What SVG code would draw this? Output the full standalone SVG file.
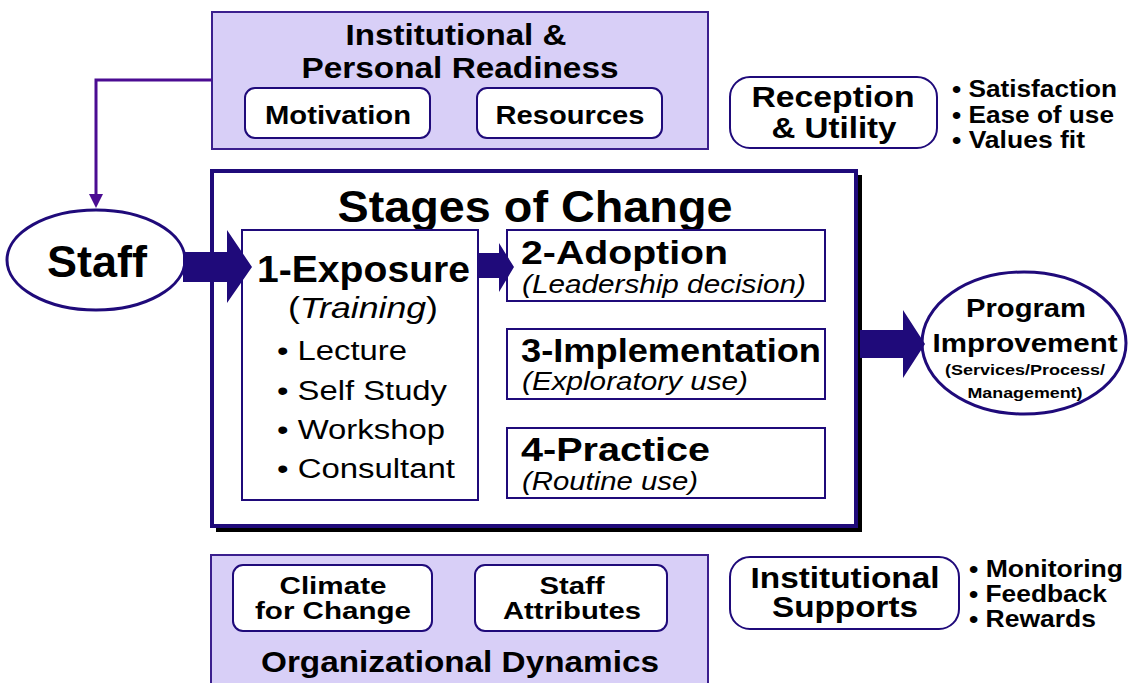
<svg xmlns="http://www.w3.org/2000/svg" width="1128" height="683" viewBox="0 0 1128 683">
<style>
.t{font-family:"Liberation Sans",Arial,sans-serif;font-weight:bold;fill:#000}
.n{font-family:"Liberation Sans",Arial,sans-serif;fill:#000}
.i{font-family:"Liberation Sans",Arial,sans-serif;font-style:italic;fill:#000}
.panel{fill:#d8cff7;stroke:#3b1f8e;stroke-width:2}
.rbox{fill:#fff;stroke:#1f0a7a;stroke-width:2}
.sbox{fill:#fff;stroke:#1f0a7a;stroke-width:2}
.big{fill:#1f0a7a}
</style>
<rect width="1128" height="683" fill="#fff"/>
<g id="readiness">
<rect class="panel" x="212" y="12" width="496" height="137"/>
<text class="t" x="456" y="45" font-size="29" text-anchor="middle" textLength="221" lengthAdjust="spacingAndGlyphs">Institutional &amp;</text>
<text class="t" x="460" y="78" font-size="29" text-anchor="middle" textLength="317" lengthAdjust="spacingAndGlyphs">Personal Readiness</text>
</g>
<g id="motivation">
<rect class="rbox" x="245" y="88" width="185" height="50" rx="10"/>
<text class="t" x="338" y="124" font-size="26" text-anchor="middle" textLength="146" lengthAdjust="spacingAndGlyphs">Motivation</text>
</g>
<g id="resources">
<rect class="rbox" x="477" y="88" width="185" height="50" rx="10"/>
<text class="t" x="570" y="124" font-size="26" text-anchor="middle" textLength="149" lengthAdjust="spacingAndGlyphs">Resources</text>
</g>
<g id="reception">
<rect class="rbox" x="730" y="77" width="207" height="71" rx="20"/>
<text class="t" x="833" y="107" font-size="30" text-anchor="middle" textLength="163" lengthAdjust="spacingAndGlyphs">Reception</text>
<text class="t" x="834" y="138" font-size="30" text-anchor="middle" textLength="125" lengthAdjust="spacingAndGlyphs">&amp; Utility</text>
<text class="t" x="952" y="97" font-size="24" textLength="165" lengthAdjust="spacingAndGlyphs">• Satisfaction</text>
<text class="t" x="952" y="123" font-size="24" textLength="162" lengthAdjust="spacingAndGlyphs">• Ease of use</text>
<text class="t" x="952" y="148" font-size="24" textLength="133" lengthAdjust="spacingAndGlyphs">• Values fit</text>
</g>
<g id="staff">
<ellipse cx="96" cy="260" rx="89" ry="50" fill="#fff" stroke="#1f0a7a" stroke-width="3"/>
<text class="t" x="97" y="277" font-size="44" text-anchor="middle" textLength="100" lengthAdjust="spacingAndGlyphs">Staff</text>
</g>
<g id="stages">
<rect x="216" y="175" width="646" height="357" fill="#000"/>
<rect x="212" y="171" width="644" height="355" fill="#fff" stroke="#1f0a7a" stroke-width="4"/>
<text class="t" x="535" y="222" font-size="44" text-anchor="middle" textLength="395" lengthAdjust="spacingAndGlyphs">Stages of Change</text>
</g>
<g id="exposure">
<rect class="sbox" x="242" y="230" width="236" height="270"/>
<text class="t" x="257" y="282" font-size="36" textLength="213" lengthAdjust="spacingAndGlyphs">1-Exposure</text>
<text class="n" x="363" y="318" font-size="30" text-anchor="middle" textLength="150" lengthAdjust="spacingAndGlyphs">(<tspan class="i">Training</tspan>)</text>
<text class="n" x="277" y="360" font-size="27" textLength="130" lengthAdjust="spacingAndGlyphs">• Lecture</text>
<text class="n" x="277" y="400" font-size="27" textLength="170" lengthAdjust="spacingAndGlyphs">• Self Study</text>
<text class="n" x="277" y="439" font-size="27" textLength="168" lengthAdjust="spacingAndGlyphs">• Workshop</text>
<text class="n" x="277" y="478" font-size="27" textLength="178" lengthAdjust="spacingAndGlyphs">• Consultant</text>
</g>
<g id="adoption">
<rect class="sbox" x="507" y="230" width="318" height="71"/>
<text class="t" x="521" y="264" font-size="33" textLength="207" lengthAdjust="spacingAndGlyphs">2-Adoption</text>
<text class="i" x="522" y="293" font-size="25" textLength="284" lengthAdjust="spacingAndGlyphs">(Leadership decision)</text>
</g>
<g id="implementation">
<rect class="sbox" x="507" y="329" width="318" height="70"/>
<text class="t" x="521" y="362" font-size="33" textLength="300" lengthAdjust="spacingAndGlyphs">3-Implementation</text>
<text class="i" x="522" y="390" font-size="25" textLength="226" lengthAdjust="spacingAndGlyphs">(Exploratory use)</text>
</g>
<g id="practice">
<rect class="sbox" x="507" y="428" width="318" height="70"/>
<text class="t" x="521" y="461" font-size="33" textLength="189" lengthAdjust="spacingAndGlyphs">4-Practice</text>
<text class="i" x="522" y="490" font-size="25" textLength="176" lengthAdjust="spacingAndGlyphs">(Routine use)</text>
</g>
<g id="program">
<ellipse cx="1024" cy="343" rx="102" ry="71" fill="#fff" stroke="#1f0a7a" stroke-width="3"/>
<text class="t" x="1026" y="317" font-size="25" text-anchor="middle" textLength="120" lengthAdjust="spacingAndGlyphs">Program</text>
<text class="t" x="1025" y="352" font-size="25" text-anchor="middle" textLength="185" lengthAdjust="spacingAndGlyphs">Improvement</text>
<text class="t" x="1025" y="375" font-size="15" text-anchor="middle" textLength="160" lengthAdjust="spacingAndGlyphs">(Services/Process/</text>
<text class="t" x="1025" y="398" font-size="15" text-anchor="middle" textLength="115" lengthAdjust="spacingAndGlyphs">Management)</text>
</g>
<g id="orgdynamics">
<rect class="panel" x="211" y="555" width="497" height="140"/>
<text class="t" x="460" y="672" font-size="30" text-anchor="middle" textLength="398" lengthAdjust="spacingAndGlyphs">Organizational Dynamics</text>
</g>
<g id="climate">
<rect class="rbox" x="233" y="565" width="199" height="66" rx="10"/>
<text class="t" x="333" y="594" font-size="24" text-anchor="middle" textLength="107" lengthAdjust="spacingAndGlyphs">Climate</text>
<text class="t" x="333" y="619" font-size="24" text-anchor="middle" textLength="156" lengthAdjust="spacingAndGlyphs">for Change</text>
</g>
<g id="attributes">
<rect class="rbox" x="475" y="565" width="192" height="66" rx="10"/>
<text class="t" x="572" y="594" font-size="24" text-anchor="middle" textLength="65" lengthAdjust="spacingAndGlyphs">Staff</text>
<text class="t" x="572" y="619" font-size="24" text-anchor="middle" textLength="138" lengthAdjust="spacingAndGlyphs">Attributes</text>
</g>
<g id="supports">
<rect class="rbox" x="730" y="557" width="229" height="72" rx="20"/>
<text class="t" x="845" y="588" font-size="29" text-anchor="middle" textLength="189" lengthAdjust="spacingAndGlyphs">Institutional</text>
<text class="t" x="845" y="617" font-size="29" text-anchor="middle" textLength="146" lengthAdjust="spacingAndGlyphs">Supports</text>
<text class="t" x="969" y="577" font-size="24" textLength="154" lengthAdjust="spacingAndGlyphs">• Monitoring</text>
<text class="t" x="969" y="602" font-size="24" textLength="138" lengthAdjust="spacingAndGlyphs">• Feedback</text>
<text class="t" x="969" y="627" font-size="24" textLength="127" lengthAdjust="spacingAndGlyphs">• Rewards</text>
</g>
<g id="connectors">
<path d="M212 80 H96 V198" fill="none" stroke="#4b0c92" stroke-width="3"/>
<path d="M89 194 L96 208 L103 194 Z" fill="#4b0c92"/>
<path class="big" d="M183 252 H227 V230 L252 267 L227 303 V282 H183 Z"/>
<path class="big" d="M478 253 H499 V243 L514 267 L499 292 V278 H478 Z"/>
<path class="big" d="M860 330 H903 V310 L925 344 L903 378 V358 H860 Z"/>
</g>
</svg>
